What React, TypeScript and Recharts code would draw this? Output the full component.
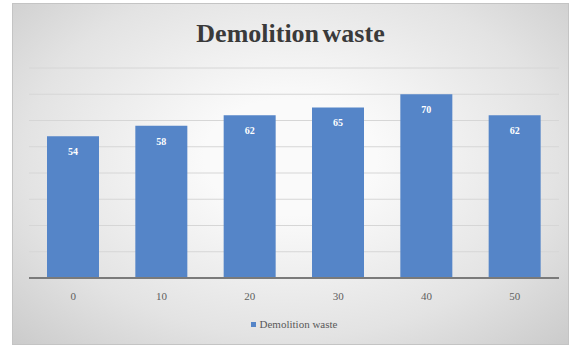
import React from "react";
import { BarChart, Bar, XAxis, YAxis, CartesianGrid, LabelList, Legend } from "recharts";

const categories = ["0", "10", "20", "30", "40", "50"];
const wasteValues = [54, 58, 62, 65, 70, 62];
const yTicks = [0, 10, 20, 30, 40, 50, 60, 70, 80];

const SERIES_NAME = "Demolition waste";
const BAR_COLOR = "#5585c8";
const FONT = "'Liberation Serif', 'DejaVu Serif', serif";

const data = categories.map((c, i) => ({ category: c, value: wasteValues[i] }));

const renderLegend = () => (
  <div
    style={{
      display: "flex",
      justifyContent: "center",
      alignItems: "center",
      gap: 4,
      fontFamily: FONT,
      fontSize: 11,
      color: "#595959",
    }}
  >
    <span style={{ display: "inline-block", width: 5, height: 5, background: BAR_COLOR }} />
    <span>{SERIES_NAME}</span>
  </div>
);

export default function App() {
  return (
    <div style={{ position: "fixed", left: 0, top: 0, width: 572, height: 347, background: "#fff" }}>
      <div
        style={{
          position: "absolute",
          left: 12,
          top: 3,
          width: 555,
          height: 340,
          border: "1px solid #c4c4c4",
          background: "radial-gradient(ellipse at 50% 45%, #fafafa 22%, #e3e3e3 68%, #cbcbcb 100%)",
        }}
      >
        <div
          style={{
            position: "absolute",
            left: 0,
            right: 0,
            top: 15,
            textAlign: "center",
            fontFamily: FONT,
            fontWeight: "bold",
            fontSize: 26,
            wordSpacing: -3,
            color: "#3a3a3a",
          }}
        >
          {SERIES_NAME}
        </div>
        <BarChart
          width={555}
          height={340}
          data={data}
          margin={{ top: 64, right: 9, bottom: 28, left: 16 }}
          style={{ position: "absolute", left: 0, top: 0 }}
        >
          <CartesianGrid vertical={false} stroke="#d6d6d6" strokeWidth={1} />
          <YAxis hide domain={[0, 80]} ticks={yTicks} />
          <XAxis
            dataKey="category"
            axisLine={{ stroke: "#7a7a7a", strokeWidth: 2 }}
            tickLine={false}
            tick={{ fill: "#5e5e5e", fontSize: 11, fontFamily: FONT }}
            dy={6}
            height={26}
          />
          <Bar dataKey="value" name={SERIES_NAME} fill={BAR_COLOR} barSize={52} isAnimationActive={false}>
            <LabelList
              dataKey="value"
              position="insideTop"
              offset={12}
              fill="#ffffff"
              fontSize={10}
              fontWeight="bold"
              fontFamily={FONT}
            />
          </Bar>
          <Legend content={renderLegend} verticalAlign="bottom" wrapperStyle={{ bottom: 14 }} />
        </BarChart>
      </div>
    </div>
  );
}
